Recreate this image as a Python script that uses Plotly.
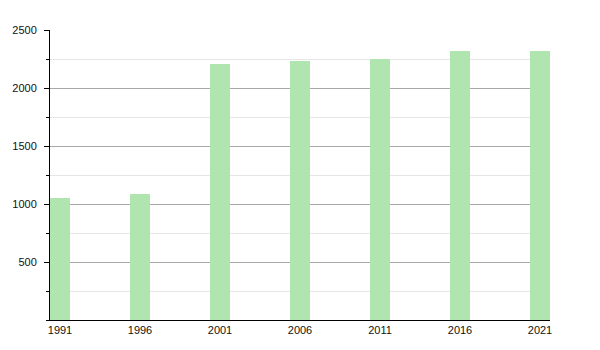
import plotly.graph_objects as go

years = [1991, 1996, 2001, 2006, 2011, 2016, 2021]
population = [1055, 1089, 2211, 2234, 2251, 2323, 2323]
tick_labels = [str(y) for y in years]

fig = go.Figure(
    go.Bar(
        x=years,
        y=population,
        width=1.25,
        marker=dict(color="#b0e5b0", line=dict(width=0)),
    )
)

fig.update_layout(
    width=600,
    height=350,
    margin=dict(l=50, r=50, t=30, b=30),
    paper_bgcolor="white",
    plot_bgcolor="white",
    showlegend=False,
    font=dict(family="Liberation Sans, Arial, sans-serif", size=11, color="#111111"),
    bargap=0,
)

fig.update_xaxes(
    range=[1990.375, 2021.625],
    tickvals=years,
    ticktext=tick_labels,
    showgrid=False,
    zeroline=False,
    showline=True,
    linecolor="black",
    linewidth=1,
    ticks="",
    ticklabelstandoff=0,
)

fig.update_yaxes(
    range=[0, 2500],
    tickvals=[500, 1000, 1500, 2000, 2500],
    showgrid=True,
    gridcolor="#a8a8a8",
    gridwidth=1,
    zeroline=False,
    showline=True,
    linecolor="black",
    linewidth=1,
    ticks="outside",
    ticklen=5,
    tickcolor="black",
    ticklabelstandoff=5,
    minor=dict(
        dtick=250,
        tick0=0,
        showgrid=True,
        gridcolor="#e6e6e6",
        gridwidth=1,
        ticks="outside",
        ticklen=3,
        tickcolor="black",
    ),
)

fig.write_html("out.html")
